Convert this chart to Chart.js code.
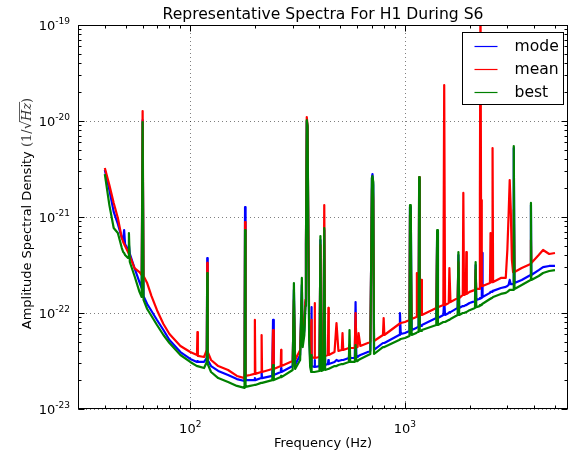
<!DOCTYPE html>
<html>
<head>
<meta charset="utf-8">
<script src="https://cdn.jsdelivr.net/npm/chart.js@4.4.1/dist/chart.umd.min.js"></script>
<style>
  html, body { margin: 0; padding: 0; background: #fff; }
</style>
</head>
<body>
<canvas id="spectra" width="574" height="451"></canvas>
<script>
// frequencies (Hz) shared by all three spectra
const freqHz = [40, 42, 44, 46, 48, 48.7, 49.2, 49.7, 51.3, 51.8, 52.3, 55, 58, 59.4, 60, 60.6, 63, 66, 70, 75,
  80, 90, 100, 107.5, 108, 108.5, 116, 119.4, 120, 120.6, 125, 135, 150, 165, 179, 180, 181, 190, 199, 200,
  201, 214, 215, 216, 241, 243, 245, 264, 265, 266, 300, 304, 308, 325, 331, 334, 340, 344, 346, 349,
  352, 355, 358, 362, 366, 367, 368, 379, 380, 381, 400, 404, 408, 417, 421, 425, 438, 440, 442, 470,
  480, 490, 508, 512, 516, 548, 552, 556, 584, 589, 594, 602, 608, 620, 690, 702, 706, 712, 718, 790,
  796, 802, 940, 948, 956, 1000, 1050, 1056, 1065, 1075, 1130, 1137, 1145, 1158, 1165, 1172, 1185, 1190, 1200, 1400,
  1413, 1425, 1510, 1524, 1538, 1600, 1611, 1630, 1760, 1775, 1790, 1860, 1871, 1885, 1922, 1932, 1942, 2000, 2120, 2135,
  2150, 2225, 2235, 2249, 2262, 2280, 2290, 2300, 2490, 2505, 2520, 2545, 2560, 2575, 2800, 2950, 3000, 3040, 3077, 3110,
  3150, 3190, 3214, 3240, 3500, 3850, 3864, 3880, 4200, 4400, 4700, 5000];

// amplitude spectral density, 1/sqrt(Hz)
const modeASD = [3.09e-21, 1.91e-21, 1.13e-21, 8.46e-22, 6.04e-22, 5.76e-22, 7.32e-22, 5.23e-22, 4.53e-22, 5.11e-22, 4.12e-22, 2.94e-22, 2.10e-22, 1.82e-22, 1.02e-20, 1.50e-22, 1.24e-22, 1.05e-22, 8.46e-23, 6.65e-23,
  5.23e-23, 3.92e-23, 3.32e-23, 3.09e-23, 3.16e-23, 3.09e-23, 3.09e-23, 3.40e-23, 3.74e-22, 3.24e-23, 2.80e-23, 2.49e-23, 2.26e-23, 2.05e-23, 1.96e-23, 1.27e-21, 2.00e-23, 2.00e-23, 2.00e-23, 2.10e-23,
  2.00e-23, 2.10e-23, 2.43e-23, 2.10e-23, 2.21e-23, 8.46e-23, 2.26e-23, 2.43e-23, 2.67e-23, 2.43e-23, 2.80e-23, 1.74e-22, 2.87e-23, 3.65e-23, 1.96e-22, 4.99e-23, 6.65e-23, 1.30e-22, 5.11e-22, 1.00e-20,
  8.46e-21, 5.76e-22, 6.65e-23, 3.24e-23, 2.80e-23, 1.15e-22, 2.80e-23, 2.74e-23, 3.24e-23, 2.74e-23, 2.80e-23, 5.76e-22, 2.80e-23, 2.87e-23, 7.32e-22, 2.87e-23, 2.94e-23, 3.24e-23, 2.94e-23, 3.09e-23,
  3.24e-23, 3.16e-23, 3.24e-23, 3.24e-23, 3.24e-23, 3.40e-23, 4.12e-23, 3.40e-23, 3.40e-23, 1.30e-22, 3.48e-23, 3.48e-23, 3.57e-23, 3.65e-23, 4.02e-23, 2.55e-21, 2.80e-21, 2.15e-21, 4.12e-23, 4.87e-23,
  4.87e-23, 4.87e-23, 5.90e-23, 1.00e-22, 6.04e-23, 6.19e-23, 6.49e-23, 1.27e-21, 1.13e-21, 6.65e-23, 6.98e-23, 6.98e-23, 7.15e-23, 7.15e-23, 2.43e-21, 7.32e-23, 7.32e-23, 7.32e-23, 7.50e-23, 8.87e-23,
  6.98e-22, 8.87e-23, 9.53e-23, 1.37e-22, 9.53e-23, 1.00e-22, 1.02e-22, 1.02e-22, 1.13e-22, 4.02e-22, 1.13e-22, 1.18e-22, 1.18e-22, 1.18e-22, 1.21e-22, 1.21e-22, 1.21e-22, 1.27e-22, 1.33e-22, 3.16e-22,
  1.37e-22, 1.40e-22, 1.43e-22, 1.43e-22, 1.43e-22, 1.47e-22, 4.22e-22, 1.47e-22, 1.62e-22, 1.66e-22, 1.66e-22, 1.66e-22, 1.70e-22, 1.70e-22, 1.82e-22, 1.87e-22, 1.91e-22, 1.96e-22, 2.21e-22, 2.00e-22,
  2.00e-22, 2.00e-22, 5.23e-21, 2.05e-22, 2.21e-22, 2.49e-22, 1.33e-21, 2.49e-22, 2.80e-22, 3.01e-22, 3.09e-22, 3.09e-22];

const meanASD = [3.24e-21, 2.15e-21, 1.40e-21, 9.76e-22, 6.04e-22, 5.49e-22, 5.23e-22, 4.99e-22, 4.32e-22, 4.12e-22, 3.92e-22, 2.94e-22, 2.67e-22, 2.49e-22, 1.27e-20, 2.43e-22, 2.05e-22, 1.50e-22, 1.07e-22, 7.68e-23,
  6.04e-23, 4.53e-23, 3.92e-23, 3.65e-23, 6.34e-23, 3.57e-23, 3.48e-23, 4.12e-23, 3.32e-22, 3.92e-23, 3.24e-23, 2.80e-23, 2.55e-23, 2.21e-23, 2.10e-23, 8.87e-22, 2.21e-23, 2.26e-23, 2.32e-23, 8.46e-23,
  2.32e-23, 2.43e-23, 5.90e-23, 2.43e-23, 2.61e-23, 6.65e-23, 2.61e-23, 2.80e-23, 4.12e-23, 2.80e-23, 3.16e-23, 1.37e-22, 3.24e-23, 4.12e-23, 1.37e-22, 5.49e-23, 7.50e-23, 1.37e-22, 5.76e-22, 1.10e-20,
  8.87e-21, 7.32e-22, 8.46e-23, 4.12e-23, 3.57e-23, 8.46e-23, 3.48e-23, 3.40e-23, 1.27e-22, 3.40e-23, 3.48e-23, 5.11e-22, 3.48e-23, 3.57e-23, 1.33e-21, 3.57e-23, 3.65e-23, 1.13e-22, 3.65e-23, 3.92e-23,
  7.87e-23, 4.02e-23, 4.12e-23, 6.19e-23, 4.12e-23, 4.32e-23, 4.64e-23, 4.32e-23, 4.32e-23, 1.00e-22, 4.42e-23, 4.42e-23, 6.19e-23, 4.53e-23, 4.99e-23, 1.91e-21, 2.43e-21, 1.50e-21, 5.11e-23, 5.90e-23,
  8.87e-23, 5.90e-23, 7.68e-23, 7.68e-23, 7.87e-23, 8.06e-23, 8.46e-23, 1.05e-21, 3.57e-22, 8.66e-23, 9.08e-23, 2.61e-22, 9.31e-23, 9.31e-23, 2.61e-21, 9.53e-23, 9.53e-23, 2.21e-22, 9.53e-23, 1.13e-22,
  5.76e-22, 1.15e-22, 1.21e-22, 2.37e-20, 1.21e-22, 1.27e-22, 2.94e-22, 1.30e-22, 1.43e-22, 3.40e-22, 1.43e-22, 1.54e-22, 1.78e-21, 1.54e-22, 1.58e-22, 4.32e-22, 1.58e-22, 1.66e-22, 1.74e-22, 2.80e-22,
  1.78e-22, 1.78e-22, 1.70e-21, 3.0e-19, 1.50e-21, 1.91e-22, 1.96e-22, 1.91e-22, 2.05e-22, 6.81e-22, 2.10e-22, 2.10e-22, 5.23e-21, 2.10e-22, 2.32e-22, 2.32e-22, 4.53e-22, 1.05e-21, 2.43e-21, 1.27e-21,
  3.57e-22, 2.67e-22, 1.18e-21, 2.67e-22, 2.94e-22, 3.24e-22, 5.76e-22, 3.32e-22, 4.02e-22, 4.53e-22, 4.12e-22, 4.22e-22];

const bestASD = [2.80e-21, 1.33e-21, 7.68e-22, 6.81e-22, 4.75e-22, 4.32e-22, 4.22e-22, 4.02e-22, 3.74e-22, 6.81e-22, 3.40e-22, 2.43e-22, 1.66e-22, 1.47e-22, 9.76e-21, 1.37e-22, 1.10e-22, 9.31e-23, 7.50e-23, 5.90e-23,
  4.87e-23, 3.65e-23, 3.09e-23, 2.80e-23, 2.80e-23, 2.80e-23, 2.67e-23, 3.09e-23, 2.61e-22, 2.94e-23, 2.43e-23, 2.10e-23, 1.91e-23, 1.74e-23, 1.66e-23, 7.32e-22, 1.70e-23, 1.74e-23, 1.78e-23, 1.78e-23,
  1.78e-23, 1.87e-23, 1.87e-23, 1.87e-23, 2.00e-23, 2.87e-23, 2.00e-23, 2.15e-23, 2.21e-23, 2.15e-23, 2.55e-23, 2.05e-22, 2.61e-23, 3.24e-23, 2.32e-22, 4.42e-23, 5.90e-23, 1.18e-22, 5.11e-22, 1.02e-20,
  8.87e-21, 5.76e-22, 5.23e-23, 2.74e-23, 2.43e-23, 3.65e-23, 2.43e-23, 2.43e-23, 2.43e-23, 2.43e-23, 2.49e-23, 6.34e-22, 2.49e-23, 2.55e-23, 7.68e-22, 2.55e-23, 2.61e-23, 2.61e-23, 2.61e-23, 2.80e-23,
  2.80e-23, 2.87e-23, 2.94e-23, 2.94e-23, 2.94e-23, 3.09e-23, 6.65e-23, 3.09e-23, 3.09e-23, 4.64e-23, 3.16e-23, 3.16e-23, 3.24e-23, 3.32e-23, 3.74e-23, 2.55e-21, 2.67e-21, 2.32e-21, 3.74e-23, 4.42e-23,
  4.42e-23, 4.42e-23, 5.23e-23, 5.23e-23, 5.36e-23, 5.49e-23, 5.76e-23, 1.33e-21, 1.18e-21, 5.90e-23, 6.19e-23, 6.19e-23, 6.34e-23, 6.34e-23, 2.61e-21, 6.49e-23, 6.49e-23, 6.49e-23, 6.65e-23, 7.50e-23,
  7.32e-22, 7.50e-23, 8.06e-23, 8.06e-23, 8.06e-23, 8.46e-23, 8.46e-23, 8.66e-23, 9.53e-23, 4.32e-22, 9.53e-23, 1.00e-22, 1.00e-22, 1.00e-22, 1.02e-22, 1.02e-22, 1.02e-22, 1.07e-22, 1.13e-22, 3.40e-22,
  1.15e-22, 1.18e-22, 1.21e-22, 1.21e-22, 1.21e-22, 1.24e-22, 1.24e-22, 1.24e-22, 1.40e-22, 1.40e-22, 1.43e-22, 1.43e-22, 1.43e-22, 1.47e-22, 1.58e-22, 1.62e-22, 1.66e-22, 1.70e-22, 1.74e-22, 1.74e-22,
  1.74e-22, 1.74e-22, 5.49e-21, 1.78e-22, 1.96e-22, 2.21e-22, 1.40e-21, 2.21e-22, 2.43e-22, 2.61e-22, 2.74e-22, 2.80e-22];

const seriesNames = ["mode", "mean", "best"];
const seriesColors = ["#0000ff", "#ff0000", "#008000"];

// axis limits and labelled decades
const xRange = [30, 5750];
const yRange = [1e-23, 1e-19];
const xDecades = [100, 1000];
const yDecades = [1e-23, 1e-22, 1e-21, 1e-20, 1e-19];

function isDecade(v) {
    let l = Math.log10(v);
    return Math.abs(l - Math.round(l)) < 1e-6;
}
function isLogTick(v) {
    let m = v / Math.pow(10, Math.floor(Math.log10(v) + 1e-9));
    return Math.abs(m - Math.round(m)) < 1e-6;
}

// draws "10" with a raised exponent; align = "center" or "right"
function drawPow(ctx, v, x, baseY, align) {
    const exp = String(Math.round(Math.log10(v)));
    ctx.font = '13px "DejaVu Sans"';
    const wb = ctx.measureText("10").width;
    ctx.font = '9px "DejaVu Sans"';
    const we = ctx.measureText(exp).width;
    let x0 = align === "right" ? x - wb - we : x - (wb + we) / 2;
    ctx.textAlign = "left";
    ctx.textBaseline = "alphabetic";
    ctx.font = '13px "DejaVu Sans"';
    ctx.fillText("10", x0, baseY);
    ctx.font = '9px "DejaVu Sans"';
    ctx.fillText(exp, x0 + wb, baseY - 6);
}

// matplotlib style box: dotted grid, inward ticks on four sides, legend, titles
const boxPlugin = {
    id: "boxPlugin",
    beforeDatasetsDraw(chart) {
        const { ctx, chartArea: a, scales } = chart;
        ctx.save();
        ctx.strokeStyle = "rgba(0,0,0,0.5)";
        ctx.lineWidth = 1;
        ctx.setLineDash([1, 3]);
        xDecades.forEach(v => {
            let px = Math.round(scales.x.getPixelForValue(v)) + 0.5;
            ctx.beginPath(); ctx.moveTo(px, a.top); ctx.lineTo(px, a.bottom); ctx.stroke();
        });
        yDecades.forEach(v => {
            let py = Math.round(scales.y.getPixelForValue(v)) + 0.5;
            ctx.beginPath(); ctx.moveTo(a.left, py); ctx.lineTo(a.right, py); ctx.stroke();
        });
        ctx.restore();
    },
    afterDatasetsDraw(chart) {
        const { ctx, chartArea: a, scales } = chart;
        const L = Math.round(a.left) + 0.5, R = Math.round(a.right) - 0.5;
        const T = Math.round(a.top) + 0.5, B = Math.round(a.bottom) - 0.5;
        ctx.save();
        ctx.strokeStyle = "#000";
        ctx.lineWidth = 1;
        scales.x.ticks.forEach(t => {
            if (!isLogTick(t.value)) return;
            let px = Math.round(scales.x.getPixelForValue(t.value)) + 0.5;
            let len = isDecade(t.value) ? 6 : 3;
            ctx.beginPath();
            ctx.moveTo(px, B); ctx.lineTo(px, B - len);
            ctx.moveTo(px, T); ctx.lineTo(px, T + len);
            ctx.stroke();
        });
        scales.y.ticks.forEach(t => {
            if (!isLogTick(t.value)) return;
            let py = Math.round(scales.y.getPixelForValue(t.value)) + 0.5;
            let len = isDecade(t.value) ? 6 : 3;
            ctx.beginPath();
            ctx.moveTo(L, py); ctx.lineTo(L + len, py);
            ctx.moveTo(R, py); ctx.lineTo(R - len, py);
            ctx.stroke();
        });
        ctx.strokeRect(L, T, R - L, B - T);

        // legend
        const lw = 101, lh = 72;
        const lx = Math.round(a.right - 5 - lw) + 0.5, ly = Math.round(a.top + 7) + 0.5;
        ctx.fillStyle = "#fff";
        ctx.fillRect(lx, ly, lw, lh);
        ctx.strokeRect(lx, ly, lw, lh);
        ctx.font = '15.6px "DejaVu Sans"';
        ctx.textBaseline = "middle";
        ctx.textAlign = "left";
        seriesNames.forEach((name, i) => {
            let ry = ly + 14 + i * 23;
            ctx.strokeStyle = seriesColors[i];
            ctx.lineWidth = 1.2;
            ctx.beginPath(); ctx.moveTo(lx + 12, ry); ctx.lineTo(lx + 35, ry); ctx.stroke();
            ctx.fillStyle = "#000";
            ctx.fillText(name, lx + 52, ry);
        });
        ctx.restore();
    },
    afterDraw(chart) {
        const { ctx, chartArea: a, scales } = chart;
        const cx = (a.left + a.right) / 2;
        ctx.save();
        ctx.fillStyle = "#000";

        // tick labels at the decades
        xDecades.forEach(v => drawPow(ctx, v, scales.x.getPixelForValue(v), 432.5, "center"));
        yDecades.forEach(v => drawPow(ctx, v, a.left - 8, scales.y.getPixelForValue(v) + 5, "right"));

        ctx.textAlign = "center";
        ctx.textBaseline = "alphabetic";
        ctx.font = '15.6px "DejaVu Sans"';
        ctx.fillText("Representative Spectra For H1 During S6", cx, 18.5);
        ctx.font = '13px "DejaVu Sans"';
        ctx.fillText("Frequency (Hz)", cx, 447);

        // y label with the math part in serif
        ctx.translate(28, 213.5);
        ctx.rotate(-Math.PI / 2);
        ctx.textAlign = "left";
        ctx.textBaseline = "middle";
        const sans = '13px "DejaVu Sans"';
        const serif = '13px "DejaVu Serif"';
        const serifIt = 'italic 13px "DejaVu Serif"';
        const parts = [
            ["Amplitude Spectral Density ", sans],
            ["(1/", serif],
            ["\u221a", serif],
            ["Hz", serifIt],
            [")", serif]
        ];
        let total = 0;
        parts.forEach(p => { ctx.font = p[1]; total += ctx.measureText(p[0]).width; });
        let px = -total / 2;
        parts.forEach((p, i) => {
            ctx.font = p[1];
            let w = ctx.measureText(p[0]).width;
            ctx.fillStyle = i === 0 ? "#000" : "#333";
            ctx.fillText(p[0], px, 0);
            if (p[0] === "Hz") {
                ctx.strokeStyle = "#333";
                ctx.lineWidth = 0.8;
                ctx.beginPath(); ctx.moveTo(px - 1, -8.5); ctx.lineTo(px + w + 1, -8.5); ctx.stroke();
            }
            px += w;
        });
        ctx.restore();
    }
};

const ctx = document.getElementById("spectra").getContext("2d");
const asdSeries = [modeASD, meanASD, bestASD];

const chart = new Chart(ctx, {
    type: "line",
    data: {
        datasets: asdSeries.map((vals, i) => ({
            label: seriesNames[i],
            data: freqHz.map((f, j) => ({ x: f, y: vals[j] })),
            borderColor: seriesColors[i],
            borderWidth: 2.2,
            borderJoinStyle: "round",
            pointRadius: 0,
            tension: 0,
            fill: false,
            order: 2 - i
        }))
    },
    options: {
        responsive: false,
        animation: false,
        events: [],
        layout: { padding: { top: 25, right: 6, left: 0, bottom: 0 } },
        plugins: {
            legend: { display: false },
            tooltip: { enabled: false },
            title: { display: false }
        },
        scales: {
            x: {
                type: "logarithmic",
                min: xRange[0],
                max: xRange[1],
                grid: { display: false },
                border: { display: false },
                ticks: { display: false, autoSkip: false },
                afterFit: s => { s.height = 42; }
            },
            y: {
                type: "logarithmic",
                min: yRange[0],
                max: yRange[1],
                grid: { display: false },
                border: { display: false },
                ticks: { display: false, autoSkip: false },
                afterFit: s => { s.width = 78; }
            }
        }
    },
    plugins: [boxPlugin]
});
</script>
</body>
</html>
